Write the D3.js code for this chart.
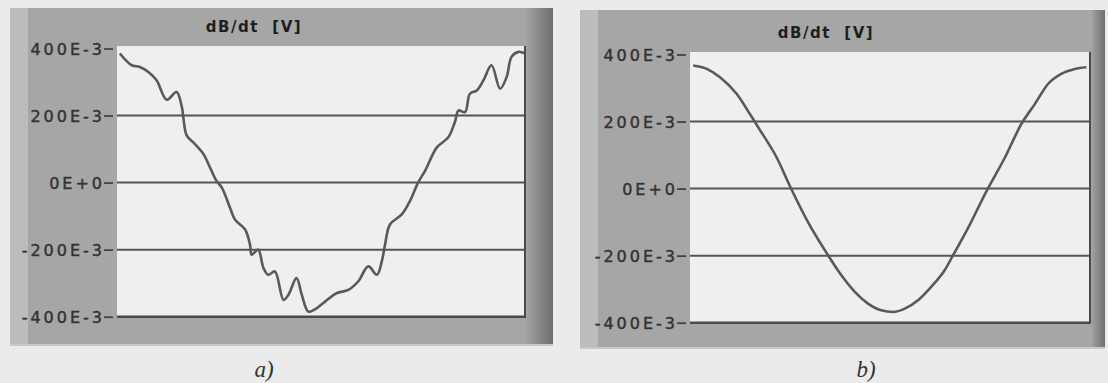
<!DOCTYPE html>
<html>
<head>
<meta charset="utf-8">
<script src="https://cdn.jsdelivr.net/npm/d3@7"></script>
<style>
  html, body { margin: 0; padding: 0; background: #ebebeb; }
  svg { display: block; }
</style>
</head>
<body>
<svg id="chart" width="1108" height="383"></svg>
<script>
// ---------- data ----------
// normalized time (0..100 across the plot) and dB/dt values [V]
const timeA = [0.7, 3.6, 5.6, 7.7, 9.7, 12.2, 14.6, 15.9, 16.3, 17.1, 19.1, 21.2, 22.8, 24.4, 25.7, 27.7, 28.9, 31.4, 32.6, 33.0, 34.6, 35.9, 37.1, 38.7, 40.8, 42.0, 44.0, 45.3, 46.9, 48.9, 51.0, 53.8, 56.7, 59.1, 61.6, 63.7, 64.9, 65.7, 66.9, 69.8, 71.8, 73.8, 75.5, 78.4, 81.2, 82.8, 83.7, 85.3, 86.5, 88.2, 89.8, 91.8, 93.9, 95.5, 96.7, 98.4, 100];
const valuesA = [0.385, 0.35, 0.345, 0.33, 0.305, 0.247, 0.27, 0.225, 0.19, 0.14, 0.115, 0.085, 0.045, 0.005, -0.015, -0.075, -0.11, -0.14, -0.185, -0.215, -0.2, -0.255, -0.275, -0.265, -0.35, -0.335, -0.285, -0.335, -0.385, -0.375, -0.355, -0.33, -0.32, -0.295, -0.25, -0.275, -0.235, -0.185, -0.125, -0.095, -0.055, 0.0, 0.035, 0.105, 0.135, 0.18, 0.215, 0.21, 0.265, 0.275, 0.305, 0.35, 0.28, 0.315, 0.375, 0.39, 0.385];

const timeB = [0.8, 4.2, 7.5, 11.7, 15.0, 17.1, 21.7, 25.0, 29.5, 34.2, 37.8, 41.2, 44.5, 47.8, 50.8, 53.7, 57.0, 60.3, 63.7, 65.8, 69.5, 74.1, 78.7, 82.8, 86.2, 89.5, 92.8, 96.2, 99.1];
const valuesB = [0.367, 0.357, 0.332, 0.282, 0.222, 0.182, 0.092, 0.007, -0.1, -0.193, -0.258, -0.308, -0.343, -0.363, -0.368, -0.358, -0.333, -0.293, -0.243, -0.198, -0.118, -0.008, 0.092, 0.192, 0.252, 0.312, 0.342, 0.357, 0.362];

const tickValues = [-0.4, -0.2, 0, 0.2, 0.4];
const tickLabels = ["-400E-3", "-200E-3", "0E+0", "200E-3", "400E-3"];
const gridValues = [-0.2, 0, 0.2];
const chartTitle = "dB/dt  [V]";
const panelLabels = ["a)", "b)"];

// ---------- layout ----------
const svg = d3.select("#chart");

const panels = [
  { time: timeA, values: valuesA, label: panelLabels[0],
    frame: { x0: 10, y0: 8, x1: 553, y1: 344 },
    plot: { left: 117, right: 525, top: 46, bottom: 318, yTop: 48.5, yBot: 316.7 },
    titleX: 254, titleY: 32, labelX: 264, labelY: 377, curve: d3.curveCatmullRom.alpha(0.5) },
  { time: timeB, values: valuesB, label: panelLabels[1],
    frame: { x0: 580, y0: 10, x1: 1105, y1: 347 },
    plot: { left: 690, right: 1090, top: 52, bottom: 324, yTop: 54.5, yBot: 322.7 },
    titleX: 826, titleY: 38, labelX: 866, labelY: 377, curve: d3.curveMonotoneX }
];

const defs = svg.append("defs");
const grad = defs.append("linearGradient").attr("id", "rightStrip")
  .attr("x1", "0%").attr("x2", "100%");
grad.append("stop").attr("offset", "0%").attr("stop-color", "#a0a0a0");
grad.append("stop").attr("offset", "100%").attr("stop-color", "#6e6e6e");

panels.forEach(p => {
  const g = svg.append("g");
  const f = p.frame, pl = p.plot;

  // outer frame
  g.append("rect").attr("x", f.x0).attr("y", f.y0)
    .attr("width", f.x1 - f.x0).attr("height", f.y1 - f.y0)
    .attr("fill", "#a6a6a6");
  // lighter left strip
  g.append("rect").attr("x", f.x0).attr("y", f.y0)
    .attr("width", 18).attr("height", f.y1 - f.y0)
    .attr("fill", "#bcbcbc");
  // darker right strip
  g.append("rect").attr("x", pl.right + 2).attr("y", f.y0)
    .attr("width", f.x1 - pl.right - 2).attr("height", f.y1 - f.y0)
    .attr("fill", "url(#rightStrip)");
  // bottom light edge
  g.append("rect").attr("x", f.x0).attr("y", f.y1)
    .attr("width", f.x1 - f.x0).attr("height", 2)
    .attr("fill", "#c8c8c8");

  // plot area
  g.append("rect").attr("x", pl.left).attr("y", pl.top)
    .attr("width", pl.right - pl.left).attr("height", pl.bottom - pl.top)
    .attr("fill", "#efefef");

  const x = d3.scaleLinear().domain([0, 100]).range([pl.left, pl.right]);
  const y = d3.scaleLinear().domain([-0.4, 0.4]).range([pl.yBot, pl.yTop]);

  // gridlines
  g.selectAll(".grid").data(gridValues).join("line")
    .attr("x1", pl.left).attr("x2", pl.right)
    .attr("y1", d => y(d)).attr("y2", d => y(d))
    .attr("stroke", "#545454").attr("stroke-width", 2);

  // plot border (bottom and right, dark)
  g.append("line").attr("x1", pl.left).attr("x2", pl.right + 1)
    .attr("y1", y(-0.4)).attr("y2", y(-0.4))
    .attr("stroke", "#4a4a4a").attr("stroke-width", 2.5);
  g.append("line").attr("x1", pl.right).attr("x2", pl.right)
    .attr("y1", pl.top).attr("y2", y(-0.4) + 1)
    .attr("stroke", "#4a4a4a").attr("stroke-width", 2);

  // curve
  const line = d3.line().x((d, i) => x(p.time[i])).y(d => y(d)).curve(p.curve);
  g.append("path").datum(p.values)
    .attr("d", line)
    .attr("fill", "none").attr("stroke", "#595959")
    .attr("stroke-width", 2.6).attr("stroke-linejoin", "round");

  // y axis
  const axis = d3.axisLeft(y).tickValues(tickValues)
    .tickFormat((d, i) => tickLabels[i]).tickSize(9).tickSizeOuter(0).tickPadding(0);
  const ax = g.append("g").attr("transform", `translate(${pl.left - 4},0)`).call(axis);
  ax.select(".domain").remove();
  ax.selectAll(".tick line").attr("stroke", "#444").attr("stroke-width", 1.8);
  ax.selectAll(".tick text")
    .attr("x", -8)
    .attr("dy", "0.36em")
    .attr("fill", "#333")
    .attr("stroke", "#333").attr("stroke-width", 0.45)
    .style("font-family", "'DejaVu Sans', sans-serif")
    .style("font-size", "16px")
    .style("letter-spacing", "3px");

  // title
  g.append("text").attr("x", p.titleX).attr("y", p.titleY)
    .attr("text-anchor", "middle")
    .style("white-space", "pre")
    .style("font-family", "'DejaVu Sans', sans-serif")
    .style("font-weight", "bold")
    .style("font-size", "15px")
    .style("letter-spacing", "1.5px")
    .attr("fill", "#1e1e1e")
    .text(chartTitle);

  // panel label
  svg.append("text").attr("x", p.labelX).attr("y", p.labelY)
    .attr("text-anchor", "middle")
    .style("font-family", "'Liberation Serif', serif")
    .style("font-style", "italic")
    .style("font-size", "23px")
    .attr("fill", "#333")
    .text(p.label);
});
</script>
</body>
</html>
